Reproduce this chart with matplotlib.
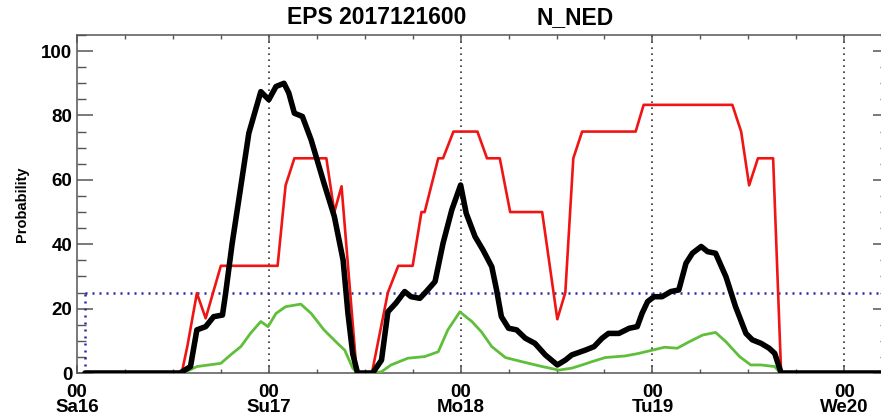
# EPS probability plot for N_NED, run 2017121600

import numpy as np
import matplotlib.pyplot as plt
from matplotlib.ticker import MultipleLocator

# hours after Sa16 00 UTC and probabilities (%)
black_t = [1, 12.9, 14.2, 15.0, 16.1, 17.1, 18.2, 18.6, 19.4, 20.5, 21.5, 23.0, 24.0, 24.9,
           25.9, 26.5, 27.2, 28.2, 29.3, 30.9, 32.2, 33.3, 33.9, 34.5, 35.1, 37.0, 38.1,
           38.9, 39.9, 41.0, 41.8, 42.9, 43.7, 44.8, 45.8, 46.9, 48.0, 48.7, 49.8, 50.8,
           51.9, 52.5, 53.1, 54.0, 55.0, 56.1, 57.3, 58.6, 60.1, 61.1, 61.9, 63.6, 64.7,
           65.7, 66.5, 67.8, 69.1, 70.1, 70.7, 71.4, 72.2, 73.2, 74.3, 75.3, 76.2, 77.0,
           78.1, 78.9, 79.9, 81.2, 82.4, 83.7, 84.5, 85.6, 86.6, 87.3, 88.1, 102]
black_p = [0, 0, 2, 13.4, 14.4, 17.5, 18, 24.8, 40, 58, 74.5, 87.4, 84.9, 89,
           90, 87, 80.7, 79.7, 72.4, 59, 48.6, 35, 18.6, 6, 0, 0, 4,
           19, 21.7, 25.3, 23.7, 23.2, 25.3, 28.4, 40.3, 50.7, 58.4, 49.6, 42.4, 38.2,
           33, 25.8, 17.5, 13.9, 13.4, 10.8, 9.2, 5.6, 2.5, 4, 5.6, 7.1, 8.2,
           10.8, 12.3, 12.3, 13.9, 14.4, 18.5, 22.2, 23.7, 23.7, 25.3, 25.8, 34.1, 37.2,
           39.3, 37.7, 37.2, 29.9, 20.6, 12.3, 10.3, 9.2, 7.7, 6.1, 0, 0]

red_t = [1, 13.1, 13.8, 15.0, 16.1, 18.0, 25.1, 26.1, 27.2, 31.2, 32.2, 33.1, 35.0,
         36.9, 38.9, 40.2, 42.0, 43.1, 43.5, 45.2, 45.8, 47.1, 50.1, 51.3, 52.9, 54.2,
         58.2, 60.1, 61.1, 62.1, 63.2, 69.9, 70.9, 82.0, 83.1, 84.1, 85.2, 87.1, 88.1, 102]
red_p = [0, 0, 8.2, 24.8, 17, 33.3, 33.3, 58.3, 66.7, 66.7, 50, 58, 0,
         0, 25, 33.3, 33.3, 50, 50, 66.7, 66.7, 75, 75, 66.7, 66.7, 50,
         50, 16.7, 25, 66.7, 75, 75, 83.3, 83.3, 75, 58.3, 66.7, 66.7, 0, 0]

green_t = [1, 13.3, 15.0, 16.5, 18.0, 19.2, 20.5, 21.7, 23.0, 23.9, 24.9, 26.1, 28.0,
           29.3, 30.9, 32.6, 33.5, 34.5, 35.1, 37.3, 38.1, 39.3, 41.4, 43.5, 45.2, 46.4,
           47.9, 49.4, 50.6, 51.9, 53.6, 55.7, 58.2, 60.3, 61.9, 63.2, 64.4, 66.1, 68.6,
           70.3, 72.0, 73.5, 75.1, 76.6, 78.3, 79.9, 81.2, 82.9, 84.3, 85.6, 87.3, 88.0, 102]
green_p = [0, 0, 2, 2.5, 3, 5.6, 8.2, 12.3, 16, 14.4, 18.5, 20.6, 21.4,
           18.5, 13.4, 9.2, 7.1, 1.5, 0, 0, 0.4, 2.5, 4.6, 5.1, 6.6, 13.4,
           19, 16, 12.8, 8.2, 4.8, 3.5, 2, 0.9, 1.5, 2.5, 3.5, 4.8, 5.3,
           6.1, 7.1, 8.0, 7.7, 9.7, 11.8, 12.6, 9.7, 5.1, 2.5, 2.5, 2, 0, 0]

threshold = 25
start_hour = 1
day_hours = [0, 24, 48, 72, 96]
day_labels = ['00\nSa16', '00\nSu17', '00\nMo18', '00\nTu19', '00\nWe20']

plt.rcParams['font.family'] = ['Liberation Sans', 'DejaVu Sans']
plt.rcParams['font.weight'] = 'bold'

fig = plt.figure(figsize=(8.81, 4.15), dpi=100)
ax = fig.add_axes([77 / 881, 42 / 415, 812 / 881, 338 / 415])

# day marks
for h in day_hours[1:]:
    ax.axvline(h, color='#333333', lw=1.2, ls=(0, (1, 2.6)), zorder=1)

# threshold box
ax.plot([start_hour, 110], [threshold, threshold], color='#2a2a9e', lw=1.8,
        ls=(0, (0.8, 2.0)), zorder=2)
ax.plot([start_hour, start_hour], [0, threshold], color='#2a2a9e', lw=1.8,
        ls=(0, (0.8, 2.0)), zorder=2)

ax.plot(green_t, green_p, color='#5fbf3a', lw=2.0, zorder=3)
ax.plot(red_t, red_p, color='#f01515', lw=1.9, zorder=4)
ax.plot(black_t, black_p, color='black', lw=4.0, zorder=5,
        solid_joinstyle='round', solid_capstyle='round')

ax.set_xlim(0, 101.6)
ax.set_ylim(0, 105)

ax.set_xticks(day_hours)
ax.set_xticklabels(day_labels)
ax.xaxis.set_minor_locator(MultipleLocator(6))
ax.set_yticks([0, 20, 40, 60, 80, 100])
ax.yaxis.set_minor_locator(MultipleLocator(5))

ax.tick_params(axis='both', which='both', direction='in', top=True, right=True,
               colors='#555555', labelcolor='black', labelsize=13.5)
ax.tick_params(axis='y', which='major', length=11.5, width=1.1, pad=3.5)
ax.tick_params(axis='y', which='minor', length=6.5, width=1.0)
ax.tick_params(axis='x', which='major', length=6, width=1.1, pad=8)
ax.tick_params(axis='x', which='minor', length=3, width=1.0)
for t in ax.get_xticklabels():
    t.set_linespacing(0.8)

for s in ax.spines.values():
    s.set_color('#555555')
    s.set_linewidth(1.1)

ax.set_ylabel('Probability', fontsize=10.5, fontweight='bold', labelpad=9)

fig.text(287 / 881, 1 - 18 / 415, 'EPS 2017121600', ha='left', va='center',
         fontsize=16.5, fontweight='bold')
fig.text(537 / 881, 1 - 18 / 415, 'N_NED', ha='left', va='center',
         fontsize=16.5, fontweight='bold')

plt.savefig('out.png', dpi=100)
